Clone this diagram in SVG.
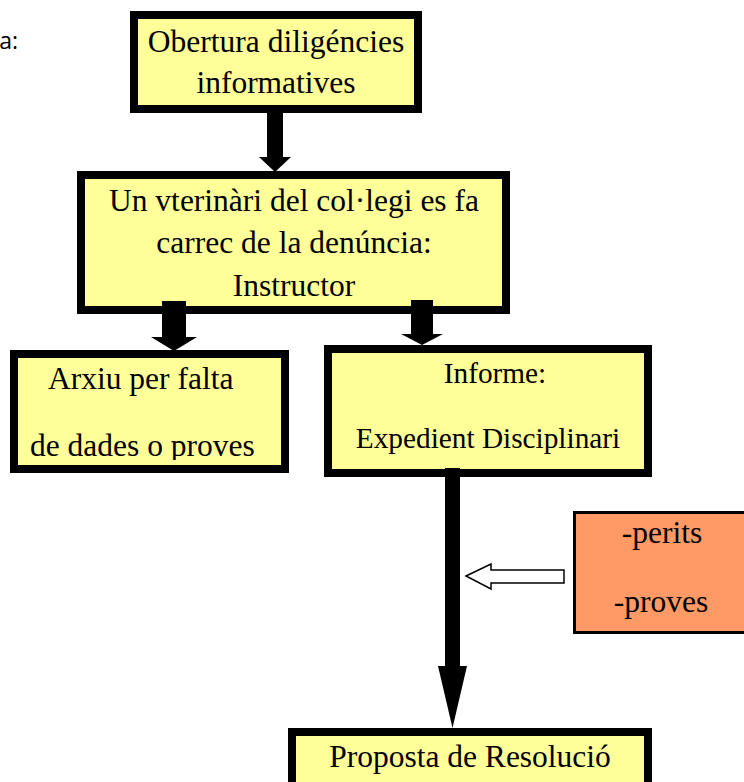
<svg xmlns="http://www.w3.org/2000/svg" width="744" height="782" viewBox="0 0 744 782">
  <style>
    .box { fill: #FFFF99; stroke: #000; stroke-width: 8; }
    .obox { fill: #FF9966; stroke: #000; stroke-width: 3; }
    .t { font-family: "Liberation Serif", "Times New Roman", serif; font-size: 31.5px; fill: #000; }
    .tm { text-anchor: middle; }
    .ts { font-size: 29.3px; }
    .arrow { fill: #000; stroke: none; }
    .hollow { fill: #fff; stroke: #000; stroke-width: 1.5; }
  </style>
  <defs>
    <clipPath id="clipArxiu">
      <rect x="17" y="357" width="266" height="103"/>
    </clipPath>
  </defs>
  <rect width="744" height="782" fill="#fff"/>
  <text x="18" y="49" text-anchor="end" font-family="'Open Sans', 'Liberation Sans', sans-serif" font-size="23" fill="#000">a:</text>

  <g id="node-obertura">
    <rect class="box" x="134" y="15" width="284" height="94"/>
    <text class="t tm" x="276" y="52">Obertura diligéncies</text>
    <text class="t tm" x="276" y="93">informatives</text>
  </g>
  <g id="node-instructor">
    <rect class="box" x="81" y="175" width="425" height="135"/>
    <text class="t tm" x="294" y="211">Un vterinàri del col·legi es fa</text>
    <text class="t tm" x="294" y="253">carrec de la denúncia:</text>
    <text class="t tm" x="294" y="296">Instructor</text>
  </g>
  <g id="node-arxiu">
    <rect class="box" x="14" y="354" width="271" height="115"/>
    <g clip-path="url(#clipArxiu)">
      <text class="t" x="48" y="389">Arxiu per falta</text>
      <text class="t" x="30" y="456">de dades o proves</text>
    </g>
  </g>
  <g id="node-informe">
    <rect class="box" x="328" y="349" width="320" height="124"/>
    <text class="t ts tm" x="495" y="383">Informe:</text>
    <text class="t ts tm" x="488" y="448">Expedient Disciplinari</text>
  </g>
  <g id="node-perits">
    <rect class="obox" x="574.5" y="512.5" width="180" height="120"/>
    <text class="t tm" x="662" y="543">-perits</text>
    <text class="t tm" x="661" y="612">-proves</text>
  </g>
  <g id="node-proposta">
    <rect class="box" x="292" y="732" width="356" height="80"/>
    <text class="t tm" x="470" y="767">Proposta de Resolució</text>
  </g>

  <g id="connectors">
    <polygon class="arrow" points="267,108 283,108 283,157 291,157 275,172 259,157 267,157"/>
    <polygon class="arrow" points="162,301 186,301 186,337 197,337 174,351 151,337 162,337"/>
    <polygon class="arrow" points="411,300 433,300 433,334 443,334 422,345 401,334 411,334"/>
    <polygon class="arrow" points="445,468 460,468 460,666 467,666 452.5,728 438,666 445,666"/>
    <polygon class="hollow" points="466,576 491,564 491,570 564,570 564,583 491,583 491,589"/>
  </g>
</svg>
